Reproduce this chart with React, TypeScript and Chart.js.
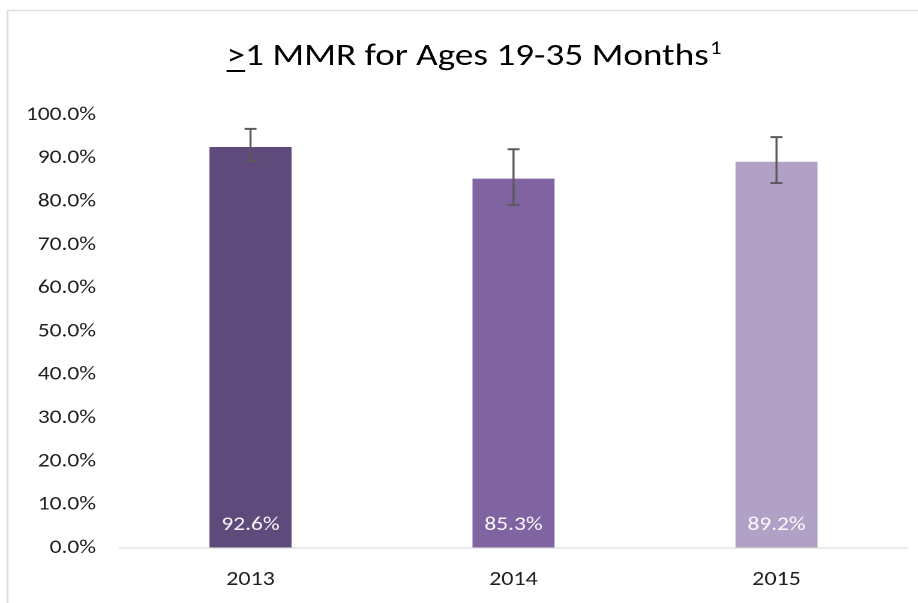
import React, { useEffect, useRef } from "react";
import { Chart, registerables } from "chart.js";

Chart.register(...registerables);

const categories = ["2013", "2014", "2015"];
const values = [92.6, 85.3, 89.2];
const errLow = [89.4, 79.2, 84.3];
const errHigh = [96.8, 92.1, 94.9];
const barColors = ["#5E4A7B", "#8064A2", "#B2A1C7"];
const valueLabels = ["92.6%", "85.3%", "89.2%"];
const titleMain = "1 MMR for Ages 19-35 Months";
const titlePrefix = ">";
const titleSup = "1";

const FONT = "Carlito, Lato, 'Open Sans', sans-serif";
const SX = 1.2;
const W = Math.round(918 / SX);
const H = 603;

const decorPlugin = {
  id: "decor",
  beforeDraw(chart: any) {
    const ctx = chart.ctx;
    ctx.save();
    ctx.strokeStyle = "#D9D9D9";
    ctx.lineWidth = 1.3;
    ctx.beginPath();
    ctx.moveTo(6.25, H);
    ctx.lineTo(6.25, 10.5);
    ctx.lineTo(W, 10.5);
    ctx.stroke();

    // title
    const size = 31;
    const supSize = 19;
    ctx.fillStyle = "#000000";
    ctx.textBaseline = "alphabetic";
    ctx.font = `${size}px ${FONT}`;
    const wPre = ctx.measureText(titlePrefix).width;
    const wMain = ctx.measureText(titleMain).width;
    ctx.font = `${supSize}px ${FONT}`;
    const wSup = ctx.measureText(titleSup).width;
    const total = wPre + wMain + wSup + 1;
    const cx = 474 / SX;
    let x = cx - total / 2;
    const base = 65;
    ctx.font = `${size}px ${FONT}`;
    ctx.textAlign = "left";
    ctx.fillText(titlePrefix, x, base);
    ctx.fillRect(x, base + 5, wPre, 2);
    x += wPre;
    ctx.fillText(titleMain, x, base);
    x += wMain + 1;
    ctx.font = `${supSize}px ${FONT}`;
    ctx.fillText(titleSup, x, base - 11);
    ctx.restore();
  },
  afterDatasetsDraw(chart: any) {
    const ctx = chart.ctx;
    const xs = chart.scales.x;
    const ys = chart.scales.y;
    ctx.save();
    // axis line
    ctx.strokeStyle = "rgba(217,217,217,0.75)";
    ctx.lineWidth = 1.5;
    const y0 = ys.getPixelForValue(0);
    ctx.beginPath();
    ctx.moveTo(chart.chartArea.left, y0);
    ctx.lineTo(chart.chartArea.right, y0);
    ctx.stroke();

    // error bars
    ctx.strokeStyle = "#5A5A5A";
    for (let i = 0; i < categories.length; i++) {
      const x = xs.getPixelForValue(i);
      const yt = ys.getPixelForValue(errHigh[i]);
      const yb = ys.getPixelForValue(errLow[i]);
      ctx.lineWidth = 1.7;
      ctx.beginPath();
      ctx.moveTo(x, yt);
      ctx.lineTo(x, yb);
      ctx.stroke();
      ctx.lineWidth = 2;
      ctx.beginPath();
      ctx.moveTo(x - 5, yt);
      ctx.lineTo(x + 5, yt);
      ctx.moveTo(x - 5, yb);
      ctx.lineTo(x + 5, yb);
      ctx.stroke();
    }

    // value labels
    ctx.fillStyle = "rgba(255,255,255,0.95)";
    ctx.font = `19.5px ${FONT}`;
    ctx.textAlign = "center";
    ctx.textBaseline = "middle";
    for (let i = 0; i < categories.length; i++) {
      const x = xs.getPixelForValue(i);
      ctx.fillText(valueLabels[i], x, y0 - 23);
    }
    ctx.restore();
  },
};

export default function App() {
  const ref = useRef<HTMLCanvasElement>(null);
  useEffect(() => {
    if (!ref.current) return;
    const chart = new Chart(ref.current, {
      type: "bar",
      data: {
        labels: categories,
        datasets: [
          {
            data: values,
            backgroundColor: barColors,
            borderWidth: 0,
            categoryPercentage: 1,
            barPercentage: 0.312,
          },
        ],
      },
      options: {
        animation: false,
        responsive: false,
        maintainAspectRatio: false,
        devicePixelRatio: 2,
        layout: { padding: { top: 115, right: W - 908 / SX, left: 0, bottom: 0 } },
        plugins: {
          legend: { display: false },
          title: { display: false },
          tooltip: { enabled: false },
        },
        scales: {
          x: {
            grid: { display: false, drawTicks: false },
            border: { display: false },
            ticks: {
              color: "#1F1F1F",
              font: { size: 20, family: FONT },
              padding: 20,
            },
            afterFit(scale: any) {
              scale.height = 55;
            },
          },
          y: {
            min: 0,
            max: 100,
            grid: { display: false, drawTicks: false },
            border: { display: false },
            ticks: {
              stepSize: 10,
              color: "#1F1F1F",
              font: { size: 19.5, family: FONT },
              padding: 119 / SX - 96 / SX,
              callback: (v: any) => Number(v).toFixed(1) + "%",
            },
            afterFit(scale: any) {
              scale.width = 119 / SX;
            },
          },
        },
      },
      plugins: [decorPlugin],
    });
    return () => chart.destroy();
  }, []);
  return (
    <div style={{ position: "absolute", left: 0, top: 0, width: 918, height: 603, overflow: "hidden", background: "#fff" }}>
      <div style={{ transform: `scaleX(${SX})`, transformOrigin: "0 0", width: W, height: H }}>
        <canvas ref={ref} width={W} height={H} style={{ display: "block", width: W + "px", height: H + "px" }} />
      </div>
    </div>
  );
}
